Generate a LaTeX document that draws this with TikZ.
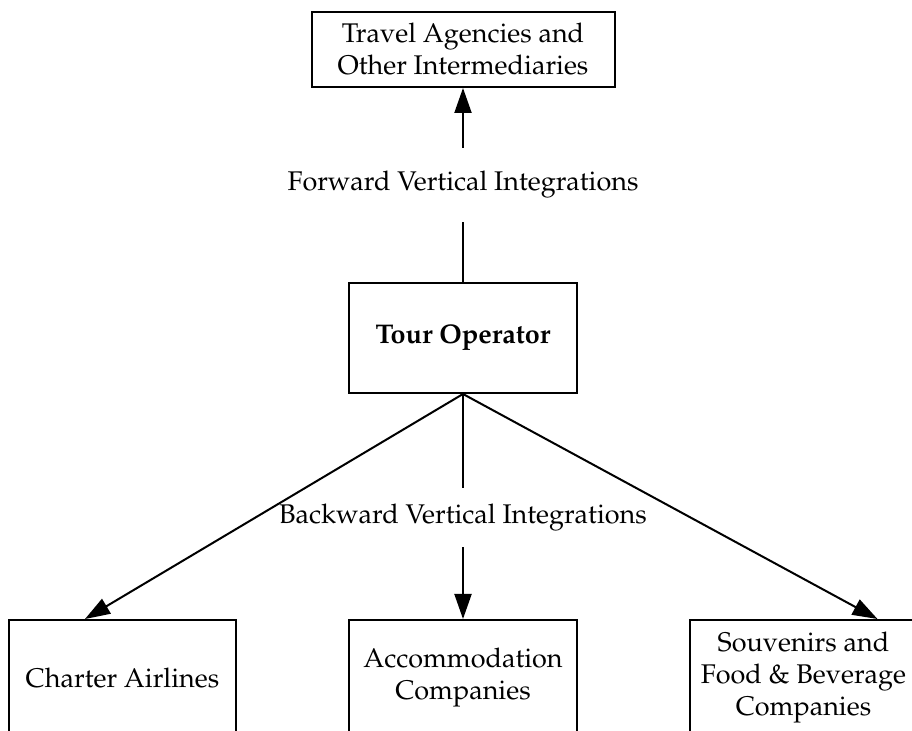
\documentclass[tikz,border=0pt]{standalone}
\usepackage[T1]{fontenc}
\usepackage{mathpazo}
\usepackage{tikz}
\usetikzlibrary{arrows.meta, positioning}

\tikzset{
    box/.style={draw, rectangle, line width=1pt, align=center, inner sep=2pt},
    lbl/.style={inner sep=0pt, align=center},
    conn/.style={line width=1pt},
    arr/.style={line width=1pt, -{Triangle[length=12.5pt, width=8.5pt]}},
}

\begin{document}
\begin{tikzpicture}[x=0.5pt, y=-0.5pt, font=\fontsize{13.5}{16}\selectfont]
    \useasboundingbox (0,0) rectangle (912,731);
    % 上游 / top
    \node[box, minimum width=151.5pt, minimum height=37.5pt] (agency) at (463,49.5) {Travel Agencies and\\Other Intermediaries};
    % 中间
    \node[box, minimum width=114pt, minimum height=55pt] (tour) at (463,338) {\textbf{Tour Operator}};
    % 下游 / bottom
    \node[box, minimum width=113.5pt, minimum height=58pt] (airline) at (122.5,678) {Charter Airlines};
    \node[box, minimum width=114pt, minimum height=58pt] (accom) at (463,678) {Accommodation\\Companies};
    \node[box, minimum width=113.5pt, minimum height=58pt] (souv) at (803.5,678) {Souvenirs and\\Food \& Beverage\\Companies};
    % 标注
    \node[lbl, minimum height=37pt] (fwd) at (463,185) {Forward Vertical Integrations};
    \node[lbl, minimum height=29.5pt] (bwd) at (463,517.5) {Backward Vertical Integrations};
    % 箭头
    \draw[conn] (tour.north) -- (fwd.south);
    \draw[arr] (fwd.north) -- (agency.south);
    \draw[conn] (tour.south) -- (bwd.north);
    \draw[arr] (bwd.south) -- (accom.north);
    \draw[arr] (tour.south) -- ([xshift=-18.75pt]airline.north);
    \draw[arr] (tour.south) -- ([xshift=37pt]souv.north);
\end{tikzpicture}
\end{document}
